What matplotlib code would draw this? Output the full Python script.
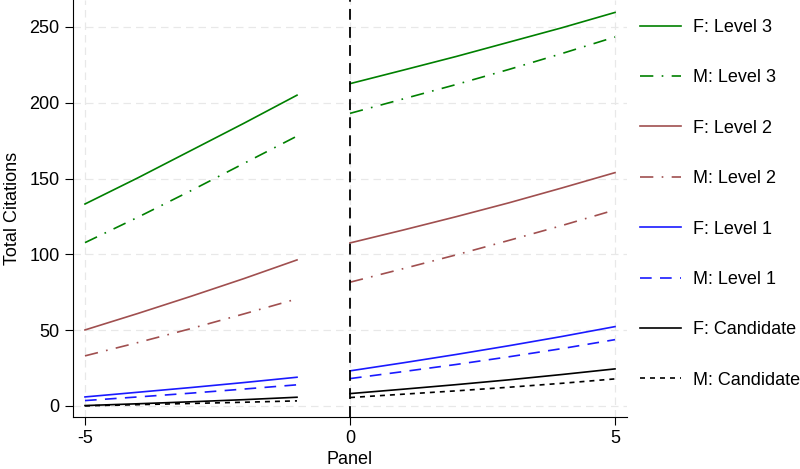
import matplotlib.pyplot as plt

plt.rcParams['font.family'] = ['Liberation Sans', 'DejaVu Sans']
plt.rcParams['axes.unicode_minus'] = False

# panel positions (before / after the cut at 0)
x_pre = [-5, -4, -3, -2, -1]
x_post = [0, 1, 2, 3, 4, 5]

# total citations
f_l3_pre = [133.2, 150.5, 168.5, 186.5, 205.0]
f_l3_post = [212.6, 221.5, 230.5, 240.0, 249.5, 259.6]
m_l3_pre = [107.7, 124.5, 142.0, 160.0, 178.0]
m_l3_post = [193.0, 202.5, 212.0, 222.0, 232.5, 243.4]
f_l2_pre = [50.1, 61.0, 72.3, 84.0, 96.3]
f_l2_post = [107.5, 116.0, 124.8, 134.0, 143.8, 153.9]
m_l2_pre = [33.0, 41.8, 51.0, 60.7, 70.6]
m_l2_post = [81.6, 90.5, 99.6, 109.2, 119.0, 129.3]
f_l1_pre = [5.9, 9.0, 12.1, 15.4, 18.9]
f_l1_post = [23.1, 28.4, 33.9, 39.7, 45.8, 52.3]
m_l1_pre = [3.5, 5.9, 8.4, 11.1, 13.9]
m_l1_post = [18.0, 22.6, 27.3, 32.4, 37.8, 43.7]
f_c_pre = [0.2, 1.4, 2.7, 4.1, 5.7]
f_c_post = [8.1, 11.0, 14.0, 17.2, 20.7, 24.4]
m_c_pre = [0.0, 0.8, 1.6, 2.4, 3.3]
m_c_post = [5.5, 7.7, 9.9, 12.3, 14.9, 17.8]

labels = ['F: Level 3', 'M: Level 3', 'F: Level 2', 'M: Level 2',
          'F: Level 1', 'M: Level 1', 'F: Candidate', 'M: Candidate']
pre = [f_l3_pre, m_l3_pre, f_l2_pre, m_l2_pre, f_l1_pre, m_l1_pre, f_c_pre, m_c_pre]
post = [f_l3_post, m_l3_post, f_l2_post, m_l2_post, f_l1_post, m_l1_post, f_c_post, m_c_post]

green = '#008000'
maroon = '#a04f4f'
blue = '#1a1aff'
colors = [green, green, maroon, maroon, blue, blue, 'black', 'black']
dashdot = (0, (8, 5, 1, 5))
styles = ['-', dashdot, '-', dashdot, '-', (0, (7, 5)), '-', (0, (3, 3))]

fig = plt.figure(figsize=(8, 4.69), dpi=100)
ax = fig.add_axes([0.091, 0.111, 0.693, 0.889])

for i in range(len(labels)):
    ax.plot(x_pre, pre[i], color=colors[i], linestyle=styles[i], lw=1.2, label=labels[i])
    ax.plot(x_post, post[i], color=colors[i], linestyle=styles[i], lw=1.2)

ax.axvline(0, color='black', linestyle=(0, (6, 4)), lw=1.3)

ax.set_xlim(-5.23, 5.23)
ax.set_ylim(-7.3, 267.8)
ax.set_xticks([-5, 0, 5])
ax.set_yticks([0, 50, 100, 150, 200, 250])
ax.tick_params(labelsize=13, length=6, width=0.8)
ax.set_xlabel('Panel', fontsize=13, labelpad=3)
ax.set_ylabel('Total Citations', fontsize=13, labelpad=6)

ax.grid(True, color='#e8e8e8', linestyle=(0, (6, 4)), lw=0.9)
ax.set_axisbelow(True)
for s in ['top', 'right']:
    ax.spines[s].set_visible(False)
ax.spines['left'].set_linewidth(0.8)
ax.spines['bottom'].set_linewidth(0.8)

ax.legend(loc='upper left', bbox_to_anchor=(1.0, 0.985), frameon=False, fontsize=13,
          handlelength=2.3, labelspacing=1.85, borderaxespad=0.3, handletextpad=0.65)

plt.savefig('out.png', dpi=100)
